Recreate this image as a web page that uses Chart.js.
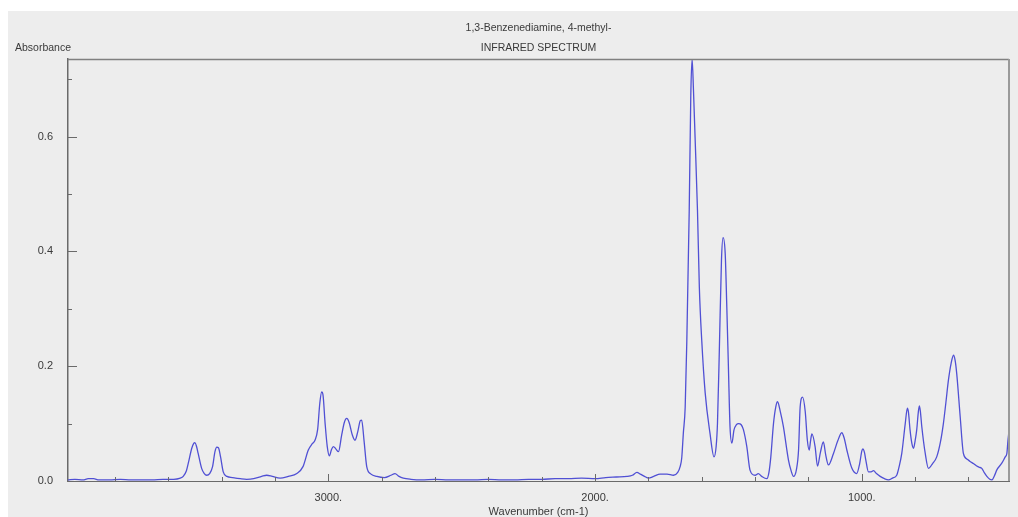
<!DOCTYPE html>
<html>
<head>
<meta charset="utf-8">
<script src="https://cdn.jsdelivr.net/npm/chart.js@4/dist/chart.umd.min.js"></script>
<style>
  html, body { margin: 0; padding: 0; background: #ffffff; }
  #wrap { width: 1018px; height: 517px; }
</style>
</head>
<body>
<div id="wrap"><canvas id="c" width="1018" height="517"></canvas></div>
<script>
const titleLines = ["1,3-Benzenediamine, 4-methyl-", "INFRARED SPECTRUM"];
const yAxisTitle = "Absorbance";
const xAxisTitle = "Wavenumber (cm-1)";

const wavenumbers = [
  3976, 3950, 3920, 3900, 3880, 3860, 3820, 3780, 3740, 3700, 3660, 3620, 3580, 3555, 3544, 3532, 3525, 3512, 3504, 3500,
  3494, 3488, 3475, 3465, 3456, 3445, 3434, 3425, 3418, 3412, 3404, 3394, 3380, 3360, 3330, 3306, 3280, 3250, 3231, 3210,
  3181, 3150, 3118, 3095, 3075, 3060, 3050, 3040, 3032, 3025, 3020, 3012, 3004, 2996, 2988, 2981, 2972, 2962, 2950, 2940,
  2931, 2922, 2910, 2900, 2890, 2880, 2875, 2866, 2856, 2840, 2818, 2790, 2765, 2750, 2735, 2719, 2690, 2650, 2600, 2550,
  2500, 2450, 2400, 2350, 2300, 2250, 2200, 2150, 2100, 2050, 2000, 1960, 1920, 1880, 1860, 1843, 1830, 1810, 1800, 1780,
  1756, 1730, 1706, 1690, 1681, 1675, 1669, 1662, 1656, 1647, 1641, 1636, 1631, 1625, 1616, 1609, 1600, 1587, 1569, 1554,
  1546, 1541, 1534, 1526, 1520, 1512, 1506, 1500, 1494, 1487, 1479, 1470, 1462, 1452, 1444, 1431, 1419, 1400, 1388, 1375,
  1356, 1348, 1341, 1331, 1322, 1316, 1305, 1294, 1275, 1265, 1256, 1245, 1237, 1231, 1222, 1212, 1204, 1197, 1192, 1187,
  1175, 1166, 1155, 1144, 1135, 1125, 1106, 1090, 1075, 1066, 1056, 1037, 1019, 1008, 1000, 996, 990, 985, 975, 965,
  956, 945, 931, 915, 900, 885, 869, 860, 850, 837, 829, 825, 819, 812, 806, 800, 794, 788, 784, 780,
  775, 762, 750, 735, 719, 705, 694, 685, 675, 665, 656, 650, 644, 631, 619, 605, 594, 580, 569, 560,
  550, 540, 531, 520, 512, 500, 494, 475, 462, 456, 452, 449
];
const absorbance = [
  0.002, 0.003, 0.002, 0.004, 0.004, 0.002, 0.002, 0.003, 0.002, 0.002, 0.002, 0.003, 0.003, 0.005, 0.008, 0.018, 0.031, 0.057, 0.066, 0.067,
  0.060, 0.048, 0.022, 0.013, 0.010, 0.013, 0.025, 0.051, 0.059, 0.058, 0.042, 0.016, 0.008, 0.006, 0.004, 0.003, 0.004, 0.008, 0.010, 0.008,
  0.005, 0.008, 0.013, 0.025, 0.054, 0.065, 0.071, 0.090, 0.135, 0.155, 0.150, 0.100, 0.060, 0.044, 0.055, 0.060, 0.056, 0.051, 0.080, 0.102,
  0.109, 0.102, 0.080, 0.071, 0.085, 0.105, 0.106, 0.070, 0.025, 0.012, 0.008, 0.006, 0.010, 0.013, 0.008, 0.005, 0.003, 0.002, 0.003, 0.002,
  0.002, 0.002, 0.003, 0.002, 0.002, 0.003, 0.003, 0.004, 0.004, 0.005, 0.004, 0.006, 0.007, 0.008, 0.010, 0.015, 0.012, 0.007, 0.005, 0.008,
  0.012, 0.012, 0.010, 0.015, 0.025, 0.040, 0.083, 0.129, 0.242, 0.469, 0.672, 0.735, 0.681, 0.599, 0.472, 0.338, 0.245, 0.153, 0.083, 0.042,
  0.060, 0.100, 0.228, 0.385, 0.424, 0.396, 0.303, 0.199, 0.095, 0.066, 0.089, 0.098, 0.100, 0.098, 0.090, 0.060, 0.019, 0.010, 0.013, 0.008,
  0.004, 0.015, 0.042, 0.100, 0.130, 0.138, 0.120, 0.095, 0.037, 0.018, 0.008, 0.020, 0.054, 0.129, 0.146, 0.121, 0.071, 0.054, 0.070, 0.082,
  0.060, 0.026, 0.050, 0.068, 0.045, 0.028, 0.048, 0.070, 0.084, 0.075, 0.054, 0.022, 0.013, 0.030, 0.052, 0.056, 0.050, 0.037, 0.016, 0.016,
  0.018, 0.013, 0.008, 0.004, 0.002, 0.005, 0.010, 0.025, 0.048, 0.100, 0.127, 0.120, 0.089, 0.065, 0.057, 0.070, 0.089, 0.120, 0.131, 0.120,
  0.095, 0.048, 0.022, 0.030, 0.042, 0.068, 0.100, 0.135, 0.176, 0.205, 0.219, 0.210, 0.187, 0.112, 0.048, 0.038, 0.034, 0.030, 0.026, 0.024,
  0.022, 0.014, 0.008, 0.003, 0.002, 0.012, 0.019, 0.031, 0.042, 0.048, 0.070, 0.083
];

const xTickValues = [3800, 3600, 3400, 3200, 3000, 2800, 2600, 2400, 2200, 2000, 1800, 1600, 1400, 1200, 1000, 800, 600];
const xTickLabels = ["", "", "", "", "3000.", "", "", "", "", "2000.", "", "", "", "", "1000.", "", ""];
const yTickValues = [0.0, 0.1, 0.2, 0.3, 0.4, 0.5, 0.6, 0.7];
const yTickLabels = ["0.0", "", "0.2", "", "0.4", "", "0.6", ""];

const TEXT_COLOR = '#3a3a3a';
const AXIS_COLOR = '#6a6a6a';
const FONT_FAMILY = '"Liberation Sans", Arial, sans-serif';

const decorPlugin = {
  id: 'decor',
  beforeDraw(chart) {
    const ctx = chart.ctx;
    ctx.save();
    ctx.fillStyle = '#ffffff';
    ctx.fillRect(0, 0, chart.width, chart.height);
    ctx.fillStyle = '#ededed';
    ctx.fillRect(8, 11, chart.width - 8, chart.height - 11);
    ctx.restore();
  },
  afterDraw(chart) {
    const ctx = chart.ctx;
    const a = chart.chartArea;
    const xs = chart.scales.x, ys = chart.scales.y;
    ctx.save();
    ctx.strokeStyle = '#808080';
    ctx.lineWidth = 1.5;
    ctx.beginPath();
    ctx.moveTo(a.left, a.top + 0.5);
    ctx.lineTo(a.right, a.top + 0.5);
    ctx.stroke();
    ctx.strokeStyle = '#9a9a9a';
    ctx.lineWidth = 2;
    ctx.beginPath();
    ctx.moveTo(a.right, a.top);
    ctx.lineTo(a.right, a.bottom);
    ctx.stroke();
    ctx.strokeStyle = AXIS_COLOR;
    ctx.lineWidth = 1;
    xTickValues.forEach((v, i) => {
      const px = Math.round(xs.getPixelForValue(v)) + 0.5;
      const len = xTickLabels[i] ? 7 : 4;
      ctx.beginPath();
      ctx.moveTo(px, a.bottom);
      ctx.lineTo(px, a.bottom - len);
      ctx.stroke();
    });
    yTickValues.forEach((v, i) => {
      const py = Math.round(ys.getPixelForValue(v)) + 0.5;
      const len = yTickLabels[i] ? 9 : 4;
      ctx.beginPath();
      ctx.moveTo(a.left, py);
      ctx.lineTo(a.left + len, py);
      ctx.stroke();
    });
    ctx.fillStyle = TEXT_COLOR;
    ctx.font = '10.5px ' + FONT_FAMILY;
    ctx.textAlign = 'center';
    ctx.textBaseline = 'middle';
    const cx = (a.left + a.right) / 2;
    ctx.fillText(titleLines[0], cx, 28);
    ctx.fillText(titleLines[1], cx, 48);
    ctx.textAlign = 'left';
    ctx.fillText(yAxisTitle, 15, 48);
    ctx.restore();
  }
};

new Chart(document.getElementById('c'), {
  type: 'line',
  data: {
    datasets: [{
      data: wavenumbers.map((w, i) => ({ x: w, y: absorbance[i] })),
      borderColor: '#5050d4',
      borderWidth: 1.3,
      pointRadius: 0,
      cubicInterpolationMode: 'monotone',
      fill: false
    }]
  },
  options: {
    responsive: false,
    animation: false,
    devicePixelRatio: 1,
    layout: { padding: { top: 59, right: 9, left: 0, bottom: 0 } },
    plugins: { legend: { display: false }, tooltip: { enabled: false }, title: { display: false } },
    scales: {
      x: {
        type: 'linear',
        reverse: true,
        min: 448,
        max: 3976,
        grid: { display: false, drawTicks: false },
        border: { display: true, color: AXIS_COLOR, width: 1 },
        afterBuildTicks(s) { s.ticks = xTickValues.map(v => ({ value: v })); },
        afterFit(s) { s.height = 36; },
        ticks: {
          autoSkip: false, maxRotation: 0, padding: 10,
          color: TEXT_COLOR, font: { family: FONT_FAMILY, size: 11 },
          callback(v) { const i = xTickValues.indexOf(v); return i >= 0 ? xTickLabels[i] : ''; }
        },
        title: {
          display: true, text: xAxisTitle, color: TEXT_COLOR,
          font: { family: FONT_FAMILY, size: 11 }, padding: { top: 0, bottom: -2 }
        }
      },
      y: {
        type: 'linear',
        min: 0,
        max: 0.735,
        grid: { display: false, drawTicks: false },
        border: { display: true, color: AXIS_COLOR, width: 1.5 },
        afterBuildTicks(s) { s.ticks = yTickValues.map(v => ({ value: v })); },
        afterFit(s) { s.width = 68; },
        ticks: {
          autoSkip: false, padding: 15,
          color: TEXT_COLOR, font: { family: FONT_FAMILY, size: 11 },
          callback(v) { const i = yTickValues.findIndex(t => Math.abs(t - v) < 1e-9); return i >= 0 ? yTickLabels[i] : ''; }
        }
      }
    }
  },
  plugins: [decorPlugin]
});
</script>
</body>
</html>
